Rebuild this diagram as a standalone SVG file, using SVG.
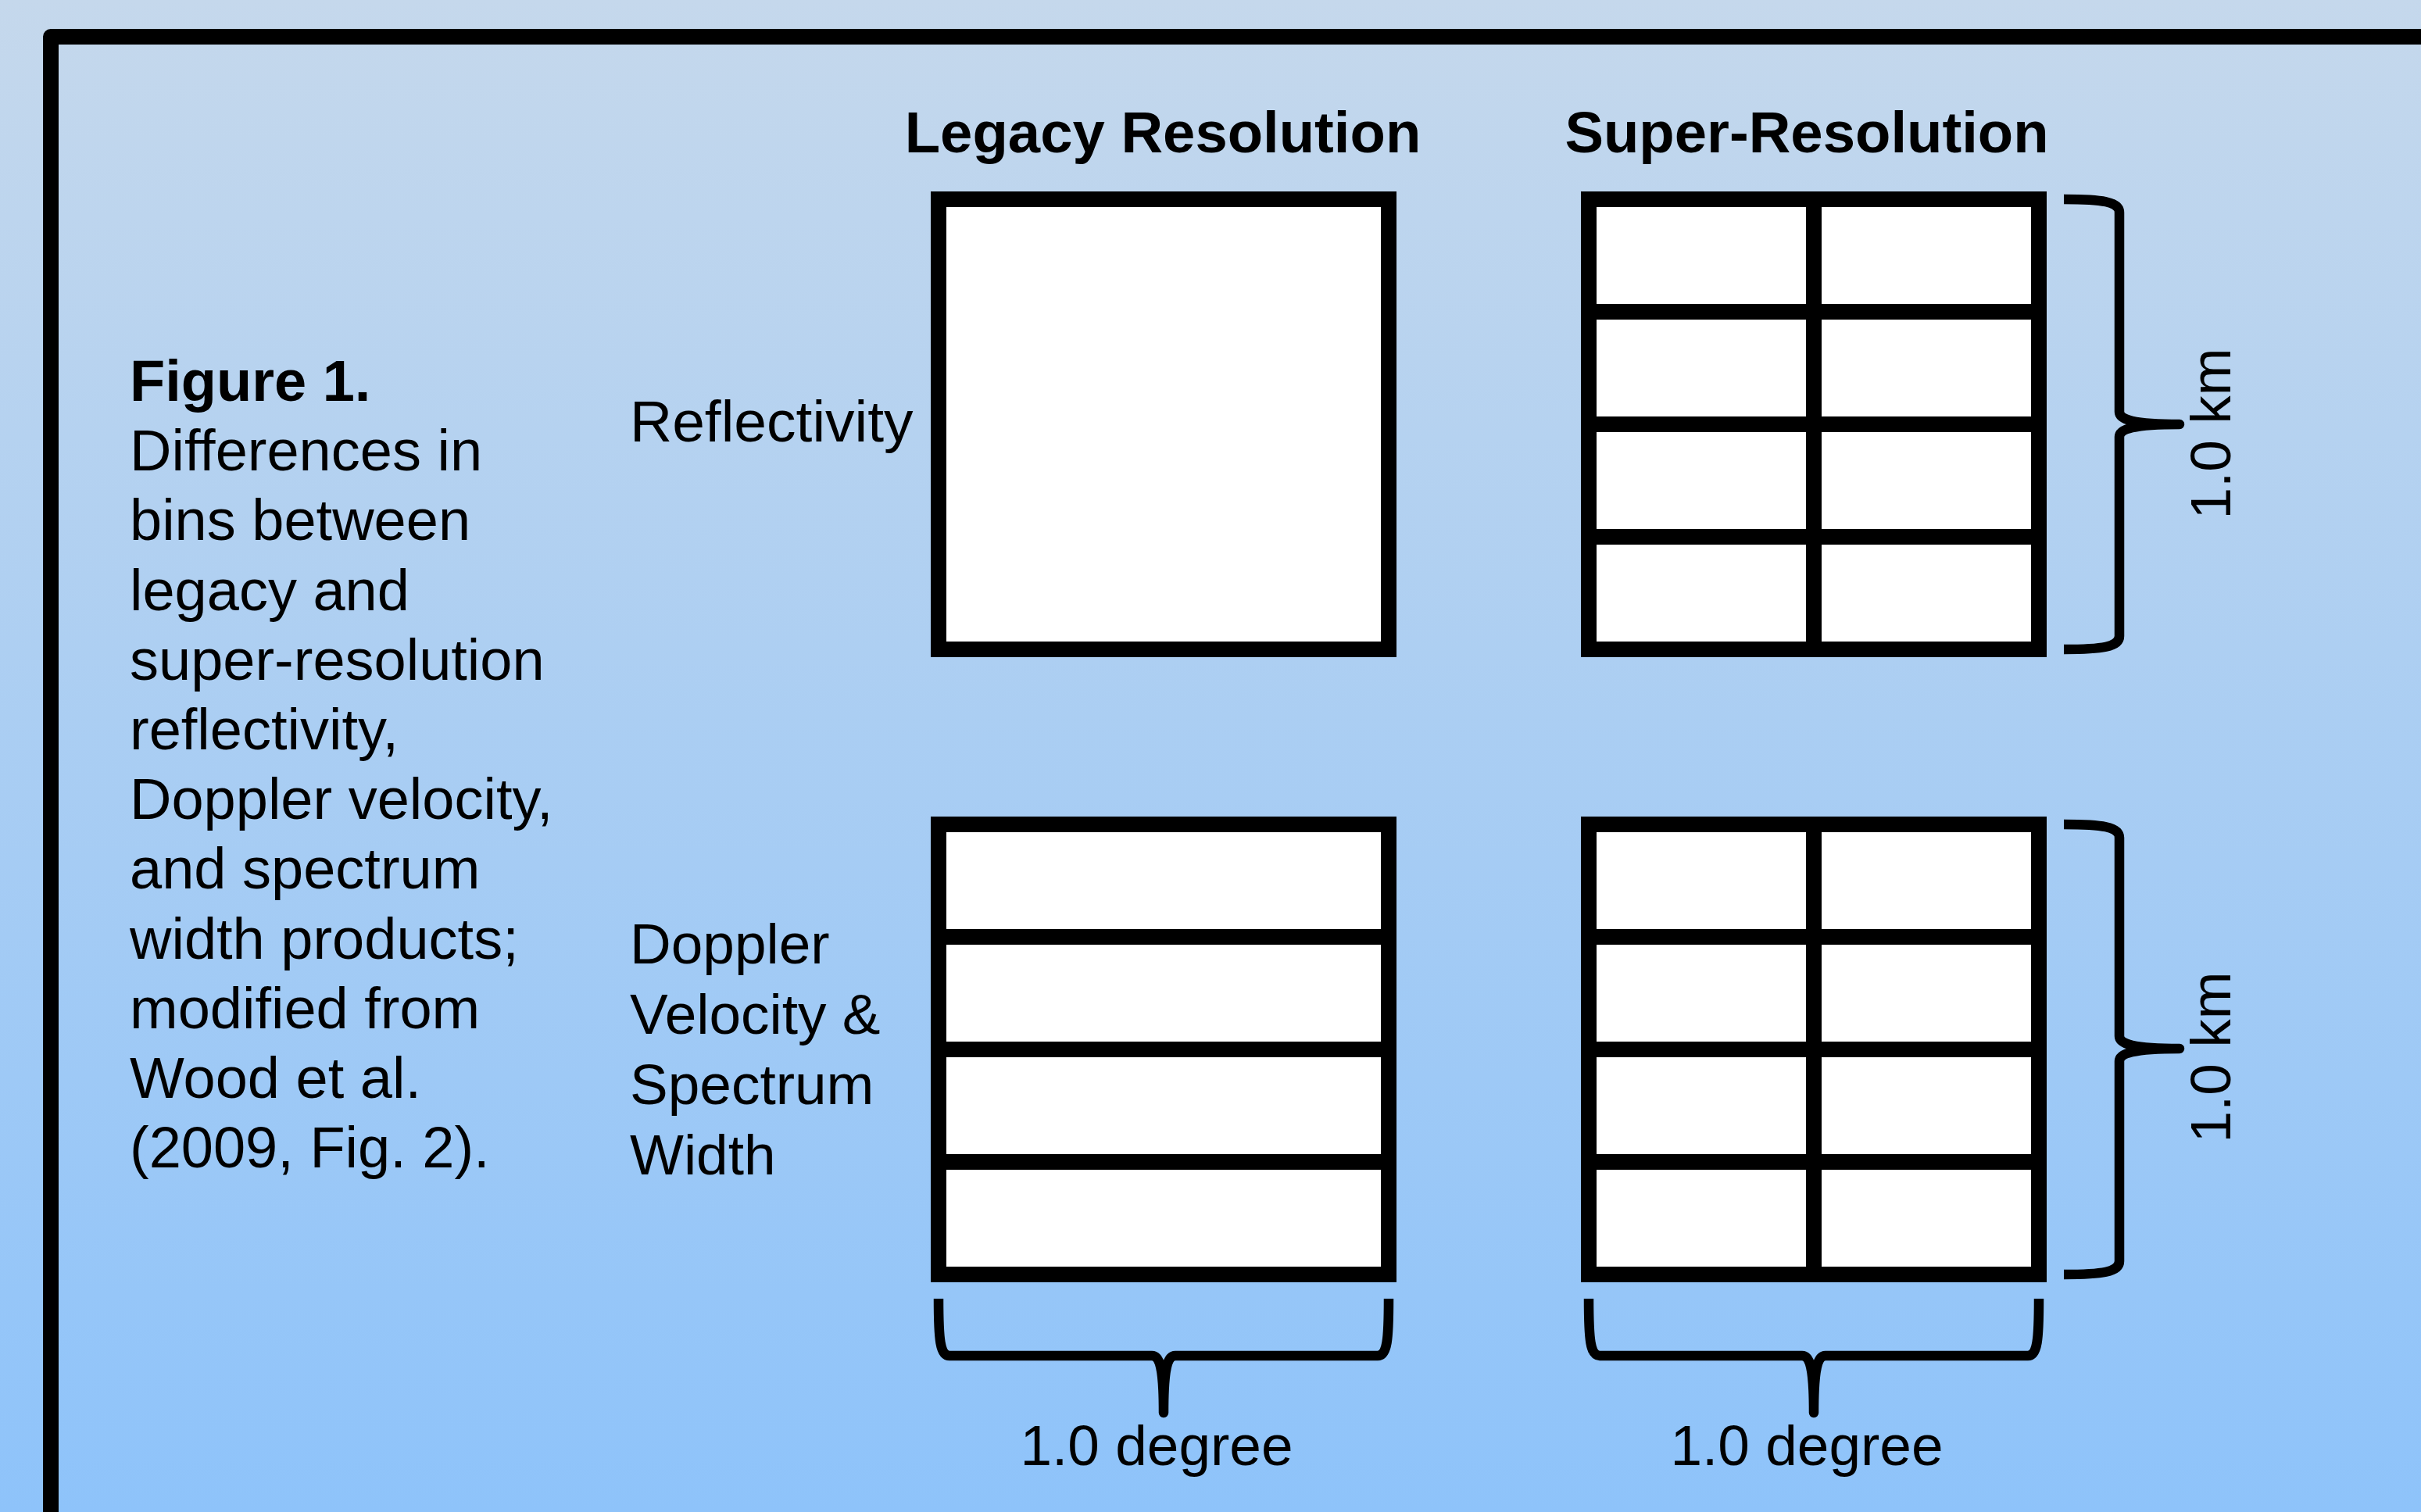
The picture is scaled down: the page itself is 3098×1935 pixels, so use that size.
<svg xmlns="http://www.w3.org/2000/svg" width="3098" height="1935" viewBox="0 0 3098 1935">
  <defs>
    <linearGradient id="bg" x1="0" y1="0" x2="0" y2="1">
      <stop offset="0" stop-color="#C5D8EC"/>
      <stop offset="1" stop-color="#8EC3FA"/>
    </linearGradient>
  </defs>
  <style>
    .t { font-family: "Liberation Sans", Arial, sans-serif; fill: #000; }
    .cap { font-size: 74px; }
    .lab { font-size: 73px; }
    .hd { font-size: 74.3px; font-weight: bold; }
    .bin { fill: #fff; stroke: #000; stroke-width: 20; }
    .div { stroke: #000; stroke-width: 20; fill: none; }
    .brace { fill: none; stroke: #000; stroke-width: 12.5; stroke-linejoin: round; }
  </style>
  <rect x="0" y="0" width="3098" height="1935" fill="url(#bg)"/>
  <path id="frame" d="M 65 2000 L 65 47 L 3200 47" fill="none" stroke="#000" stroke-width="20" stroke-linejoin="round"/>

  <g id="caption" class="t cap">
    <text x="166" y="513" font-weight="bold">Figure 1.</text>
    <text x="166" y="602">Differences in</text>
    <text x="166" y="691">bins between</text>
    <text x="166" y="781">legacy and</text>
    <text x="166" y="870">super-resolution</text>
    <text x="166" y="959">reflectivity,</text>
    <text x="166" y="1048">Doppler velocity,</text>
    <text x="166" y="1137">and spectrum</text>
    <text x="166" y="1227">width products;</text>
    <text x="166" y="1316">modified from</text>
    <text x="166" y="1405">Wood et al.</text>
    <text x="166" y="1494">(2009, Fig. 2).</text>
  </g>

  <g id="header-legacy"><text class="t hd" x="1488" y="195" text-anchor="middle">Legacy Resolution</text></g>
  <g id="header-super"><text class="t hd" x="2312" y="195" text-anchor="middle">Super-Resolution</text></g>

  <g id="label-reflectivity"><text class="t" font-size="75" x="806" y="565">Reflectivity</text></g>
  <g id="label-doppler" class="t lab">
    <text x="806" y="1233">Doppler</text>
    <text x="806" y="1323">Velocity &amp;</text>
    <text x="806" y="1413">Spectrum</text>
    <text x="806" y="1503">Width</text>
  </g>

  <g id="legacy-reflectivity">
    <rect class="bin" x="1201" y="255" width="576" height="576"/>
  </g>
  <g id="super-reflectivity">
    <rect class="bin" x="2033" y="255" width="576" height="576"/>
    <path class="div" d="M 2321 255 V 831 M 2033 399 H 2609 M 2033 543 H 2609 M 2033 687 H 2609"/>
  </g>
  <g id="legacy-velocity">
    <rect class="bin" x="1201" y="1055" width="576" height="576"/>
    <path class="div" d="M 1201 1199 H 1777 M 1201 1343 H 1777 M 1201 1487 H 1777"/>
  </g>
  <g id="super-velocity">
    <rect class="bin" x="2033" y="1055" width="576" height="576"/>
    <path class="div" d="M 2321 1055 V 1631 M 2033 1199 H 2609 M 2033 1343 H 2609 M 2033 1487 H 2609"/>
  </g>

  <g id="connectors">
    <path class="brace" d="M 2641 255 C 2690 255 2712 258 2712 272 L 2712 527 C 2712 537 2730 543 2789 543 C 2730 543 2712 549 2712 559 L 2712 814 C 2712 828 2690 831 2641 831"/>
    <path class="brace" d="M 2641 1055 C 2690 1055 2712 1058 2712 1072 L 2712 1326 C 2712 1336 2730 1342 2789 1342 C 2730 1342 2712 1348 2712 1358 L 2712 1614 C 2712 1628 2690 1631 2641 1631"/>
    <path class="brace" d="M 1201 1662 C 1201 1715 1203 1735 1215 1735 L 1474 1735 C 1484 1735 1489 1750 1489 1808 C 1489 1750 1494 1735 1504 1735 L 1763 1735 C 1775 1735 1777 1715 1777 1662"/>
    <path class="brace" d="M 2033 1662 C 2033 1715 2035 1735 2047 1735 L 2306 1735 C 2316 1735 2321 1750 2321 1808 C 2321 1750 2326 1735 2336 1735 L 2595 1735 C 2607 1735 2609 1715 2609 1662"/>
  </g>

  <g id="label-km-top"><text class="t lab" text-anchor="middle" transform="translate(2854 555) rotate(-90)">1.0 km</text></g>
  <g id="label-km-bottom"><text class="t lab" text-anchor="middle" transform="translate(2854 1353) rotate(-90)">1.0 km</text></g>
  <g id="label-deg-legacy"><text class="t lab" x="1480" y="1875" text-anchor="middle">1.0 degree</text></g>
  <g id="label-deg-super"><text class="t lab" x="2312" y="1875" text-anchor="middle">1.0 degree</text></g>
</svg>
